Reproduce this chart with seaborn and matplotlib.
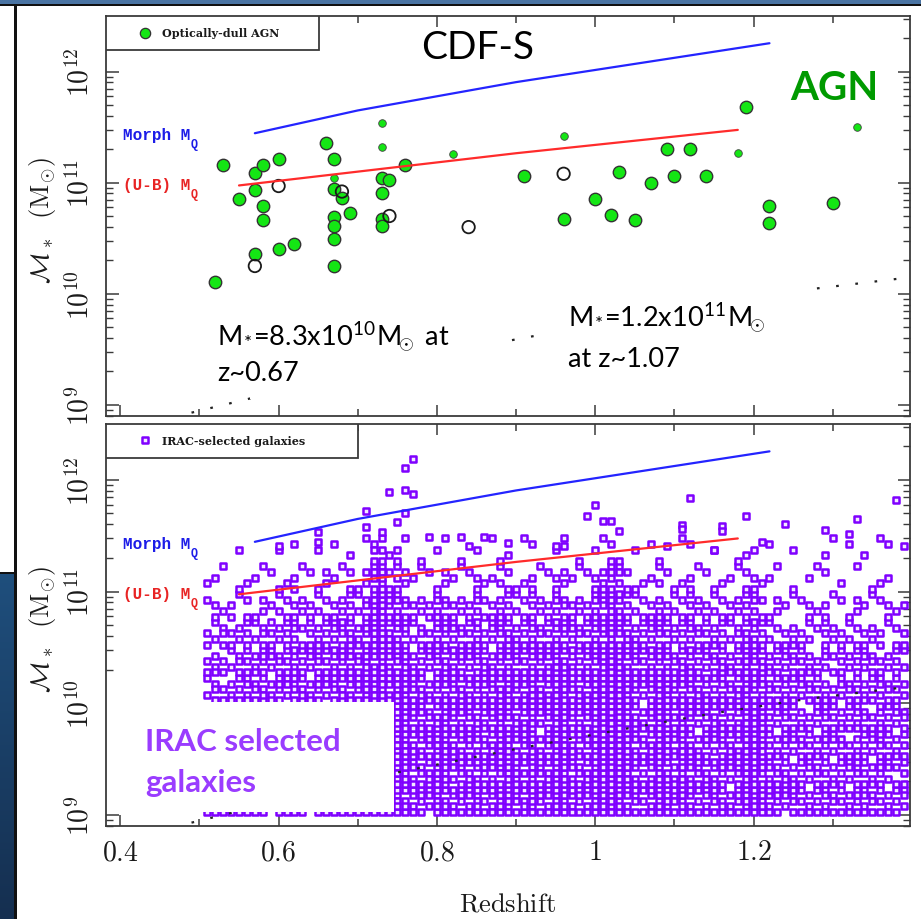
import numpy as np
import pandas as pd
import matplotlib
matplotlib.use("Agg")
import matplotlib.pyplot as plt
import seaborn as sns
from matplotlib.patches import Rectangle
from matplotlib.ticker import FixedLocator, LogLocator, MultipleLocator, NullFormatter

# ---------------------------------------------------------------- data
# Top panel: optically-dull AGN (redshift, log stellar mass)
AGN_Z = [0.53, 0.52, 0.55, 0.57, 0.58, 0.57, 0.58, 0.58, 0.60, 0.57, 0.60, 0.62,
         0.66, 0.67, 0.67, 0.67, 0.67, 0.67, 0.67, 0.68, 0.69, 0.73, 0.74, 0.73,
         0.73, 0.73, 0.76, 0.91, 0.96, 1.00, 1.02, 1.03, 1.05, 1.07, 1.09, 1.10,
         1.12, 1.14, 1.19, 1.22, 1.22, 1.30]
AGN_LOGM = [11.16, 10.11, 10.85, 11.09, 11.16, 10.93, 10.79, 10.66, 11.21, 10.36, 10.40, 10.45,
            11.36, 11.21, 10.94, 10.69, 10.61, 10.49, 10.25, 10.86, 10.73, 11.04, 11.02, 10.91,
            10.67, 10.61, 11.16, 11.06, 10.67, 10.85, 10.71, 11.10, 10.66, 11.00, 11.30, 11.06,
            11.30, 11.06, 11.68, 10.79, 10.64, 10.82]
AGN_SMALL_Z = [0.67, 0.73, 0.73, 0.82, 0.96, 1.18, 1.33]
AGN_SMALL_LOGM = [11.04, 11.32, 11.54, 11.26, 11.42, 11.27, 11.50]
AGN_OPEN_Z = [0.57, 0.60, 0.68, 0.74, 0.84, 0.96]
AGN_OPEN_LOGM = [10.25, 10.97, 10.92, 10.70, 10.60, 11.08]

# Quenching-mass lines and mass-completeness limit
MORPH_MQ_Z = [0.57, 0.70, 0.90, 1.22]
MORPH_MQ_LOGM = [11.445, 11.65, 11.905, 12.255]
UB_MQ_Z = [0.55, 0.90, 1.18]
UB_MQ_LOGM = [10.975, 11.265, 11.475]
LIMIT_Z = [0.49, 0.60, 0.75, 0.90, 1.03, 1.15, 1.27, 1.40]
LIMIT_LOGM = [8.93, 9.12, 9.38, 9.59, 9.76, 9.91, 10.04, 10.15]

# Bottom panel: IRAC-selected galaxies, read as an occupancy map.
# Columns: photometric-redshift columns; rows: 0.25 dex mass bins;
# each digit = number of galaxies (0-5) seen in that cell.
IRAC_Z_COLS = [0.51, 0.52, 0.53, 0.54, 0.55, 0.56, 0.57, 0.58, 0.59, 0.60,
               0.61, 0.62, 0.63, 0.64, 0.65, 0.66, 0.67, 0.68, 0.69, 0.70,
               0.71, 0.72, 0.73, 0.74, 0.75, 0.76, 0.77, 0.78, 0.79, 0.80,
               0.81, 0.82, 0.83, 0.84, 0.85, 0.86, 0.87, 0.88, 0.89, 0.90,
               0.91, 0.92, 0.93, 0.94, 0.95, 0.96, 0.97, 0.98, 0.99, 1.00,
               1.01, 1.02, 1.03, 1.04, 1.05, 1.06, 1.07, 1.08, 1.09, 1.10,
               1.11, 1.12, 1.13, 1.14, 1.15, 1.16, 1.17, 1.18, 1.19, 1.20,
               1.21, 1.22, 1.23, 1.24, 1.25, 1.26, 1.27, 1.28, 1.29, 1.30,
               1.31, 1.32, 1.33, 1.34, 1.35, 1.36, 1.37, 1.38, 1.39]
IRAC_BIN_LO = [9.00, 9.25, 9.50, 9.75, 10.00, 10.25, 10.50, 10.75, 11.00, 11.25]
IRAC_COUNTS = [
    "3434343434 3443434343 5554544435 4444534554 4544554445 5554434554 5434443455 5443433343 334433333",
    "3333434343 3343434443 5545554345 5344444455 3544554345 5555434543 5444443455 4434333333 334334323",
    "3343343434 3443434443 5455554445 5444434554 4534554445 5555434554 5434344455 5334333343 323334333",
    "3333343434 3443434443 5554554434 5444444544 4534554445 5555434553 5434443455 5334332343 334324333",
    "2323343434 3443434444 5554554434 4444444454 4544554445 5555434554 4444343454 4334333332 333333332",
    "2322333433 3433434443 5454453334 4443443444 3444544344 5554434443 4433343354 4333333232 323332232",
    "2232232332 3323333443 4554442324 4333423443 3433443334 4544333432 3333332344 3222322132 222222122",
    "1212121212 2222222232 3554432224 3222322332 2322332224 4543222322 2322222233 2121112121 112111211",
    "1110111111 1211121121 2452321111 2111211221 1211221112 3432111211 1211111122 1110101110 101011100",
    "0000100001 0100101010 1331210101 1010100110 1100110101 1210101100 1100100111 0100100010 010100100",
]
IRAC_SLOTS = [0.025, 0.075, 0.125, 0.175, 0.225]
IRAC_SLOT_ORDERS = ["02413", "13042", "20431", "41302", "30241"]
# isolated massive IRAC galaxies
IRAC_HI_Z = [0.77, 0.76, 0.74, 0.76, 0.77, 0.76, 0.75, 0.71, 0.71, 0.73, 0.65, 0.65,
             0.60, 0.79, 0.83, 0.86, 0.87, 0.84, 0.89, 1.12, 1.00, 0.99, 1.01, 1.02,
             1.03, 1.11, 1.11, 1.16, 1.16, 1.19, 1.21, 1.24, 1.29, 1.30, 1.32, 1.33,
             1.36, 1.38, 1.39, 0.95, 0.96, 1.09, 1.15]
IRAC_HI_LOGM = [12.19, 12.105, 11.89, 11.91, 11.875, 11.70, 11.625, 11.72, 11.575, 11.535, 11.535, 11.446,
                11.41, 11.485, 11.485, 11.485, 11.48, 11.41, 11.43, 11.84, 11.775, 11.68, 11.635, 11.63,
                11.545, 11.595, 11.56, 11.59, 11.545, 11.68, 11.446, 11.605, 11.55, 11.48, 11.515, 11.65,
                11.476, 11.815, 11.41, 11.41, 11.41, 11.41, 11.37]

X_TICKS = [0.4, 0.6, 0.8, 1.0, 1.2]
X_TICK_LABELS = [r"$0.4$", r"$0.6$", r"$0.8$", r"$1$", r"$1.2$"]
Y_TICKS = [1e9, 1e10, 1e11, 1e12]
Y_TICK_LABELS = [r"$10^{9}$", r"$10^{10}$", r"$10^{11}$", r"$10^{12}$"]

# ---------------------------------------------------------------- build tables
irac_z, irac_m = [], []
for r, (lo, row) in enumerate(zip(IRAC_BIN_LO, IRAC_COUNTS)):
    row = row.replace(" ", "")
    for i, ch in enumerate(row):
        order = IRAC_SLOT_ORDERS[(i + 2 * r) % 5]
        for k in order[:int(ch)]:
            irac_z.append(IRAC_Z_COLS[i])
            irac_m.append(lo + IRAC_SLOTS[int(k)])
irac = pd.DataFrame({"z": irac_z + IRAC_HI_Z, "logm": irac_m + IRAC_HI_LOGM})
irac["mass"] = 10 ** irac["logm"]

agn = pd.DataFrame({"z": AGN_Z, "mass": 10 ** np.array(AGN_LOGM)})
agn_small = pd.DataFrame({"z": AGN_SMALL_Z, "mass": 10 ** np.array(AGN_SMALL_LOGM)})
agn_open = pd.DataFrame({"z": AGN_OPEN_Z, "mass": 10 ** np.array(AGN_OPEN_LOGM)})
morph = pd.DataFrame({"z": MORPH_MQ_Z, "mass": 10 ** np.array(MORPH_MQ_LOGM)})
ub = pd.DataFrame({"z": UB_MQ_Z, "mass": 10 ** np.array(UB_MQ_LOGM)})
limit = pd.DataFrame({"z": LIMIT_Z, "mass": 10 ** np.array(LIMIT_LOGM)})

# ---------------------------------------------------------------- style
sns.set_style("ticks")
plt.rcParams["font.family"] = ["DejaVu Serif", "DejaVu Sans"]
plt.rcParams["mathtext.fontset"] = "cm"

W, H = 921, 920
fig = plt.figure(figsize=(W / 100, H / 100), dpi=100)
fig.patch.set_facecolor("white")

def fx(px):
    return px / W

def fy(py):
    return 1 - py / H

ax1 = fig.add_axes([fx(106), fy(417), fx(910) - fx(106), fy(17) - fy(417)])
ax2 = fig.add_axes([fx(106), fy(827), fx(910) - fx(106), fy(425) - fy(827)])

BLUE = "#2424ff"
RED = "#ff2b2b"
PURPLE = "#7f00ff"
GREEN = "#14e614"


def draw_lines(ax):
    sns.lineplot(data=morph, x="z", y="mass", ax=ax, color=BLUE, lw=1.6,
                 sort=False, estimator=None, zorder=2)
    sns.lineplot(data=ub, x="z", y="mass", ax=ax, color=RED, lw=1.6,
                 sort=False, estimator=None, zorder=2)
    sns.lineplot(data=limit, x="z", y="mass", ax=ax, color="#222222", lw=1.6,
                 linestyle=(0, (1.2, 7.5)), sort=False, estimator=None, zorder=2)
    t = ax.text(0.403, 10 ** 11.43, "Morph M", color="#1c1ce8", fontsize=11.5,
                fontfamily="Liberation Mono", fontweight="bold", va="center", ha="left", zorder=4)
    ax.annotate("Q", xy=(1, 0), xycoords=t, xytext=(0.3, 3), textcoords="offset points",
                color="#1c1ce8", fontsize=8.5, fontfamily="Liberation Mono",
                fontweight="bold", ha="left", va="top", zorder=4)
    t = ax.text(0.403, 10 ** 10.98, "(U-B) M", color="#e82424", fontsize=11.5,
                fontfamily="Liberation Mono", fontweight="bold", va="center", ha="left", zorder=4)
    ax.annotate("Q", xy=(1, 0), xycoords=t, xytext=(0.3, 3), textcoords="offset points",
                color="#e82424", fontsize=8.5, fontfamily="Liberation Mono",
                fontweight="bold", ha="left", va="top", zorder=4)


def style_axes(ax, show_x):
    ax.set_yscale("log")
    ax.set_xlim(0.382, 1.3975)
    ax.set_ylim(10 ** 8.9, 10 ** 12.5)
    ax.xaxis.set_major_locator(FixedLocator(X_TICKS))
    ax.xaxis.set_minor_locator(MultipleLocator(0.1))
    ax.yaxis.set_major_locator(FixedLocator(Y_TICKS))
    ax.yaxis.set_minor_locator(LogLocator(base=10, subs=[2, 3, 4, 5, 6, 7, 8, 9], numticks=30))
    ax.yaxis.set_minor_formatter(NullFormatter())
    ax.set_yticklabels(Y_TICK_LABELS, rotation=90, va="center", fontsize=20, color="#1a1a1a")
    if show_x:
        ax.set_xticklabels(X_TICK_LABELS, fontsize=20, color="#1a1a1a")
    ax.tick_params(which="both", direction="in", top=True, right=True,
                   color="#3a3a3a", labelbottom=show_x)
    ax.tick_params(axis="x", which="major", length=8, width=1.1, pad=9)
    ax.tick_params(axis="x", which="minor", length=5, width=1.1)
    ax.tick_params(axis="y", which="major", length=9, width=1.1, pad=8)
    ax.tick_params(axis="y", which="minor", length=5, width=1.0)
    for s in ax.spines.values():
        s.set_color("#3a3a3a")
        s.set_linewidth(1.3)
        s.set_zorder(3)
    ax.set_ylabel(r"$\mathcal{M}_*\ \ (\mathrm{M}_{\odot})$", fontsize=19, color="#1a1a1a")
    ax.yaxis.set_label_coords(-0.060, 0.49)
    ax.grid(False)


# ---------------------------------------------------------------- top panel
sns.scatterplot(data=agn, x="z", y="mass", ax=ax1, s=80, color=GREEN,
                edgecolor="#333333", linewidth=1.0, zorder=1)
sns.scatterplot(data=agn_small, x="z", y="mass", ax=ax1, s=30, color=GREEN,
                edgecolor="#444444", linewidth=0.6, zorder=1)
sns.scatterplot(data=agn_open, x="z", y="mass", ax=ax1, s=80, color="none",
                edgecolor="#1a1a1a", linewidth=1.3, zorder=1.5)
draw_lines(ax1)
style_axes(ax1, False)
ax1.set_xlabel("")

# white panels behind annotation text
for (x0, x1, y0, y1) in [(0.179, 0.496, 0.0425, 0.2475), (0.547, 0.867, 0.0925, 0.3275)]:
    ax1.add_patch(Rectangle((x0, y0), x1 - x0, y1 - y0, transform=ax1.transAxes,
                            facecolor="white", edgecolor="none", zorder=2.3))

ax1.text(0.852, 10 ** 12.22, "CDF-S", fontfamily="Lato", fontsize=28, ha="center",
         va="center", color="black", zorder=4)
ax1.text(1.302, 10 ** 11.86, "AGN", fontfamily="Lato", fontweight="bold", fontsize=29,
         ha="center", va="center", color="#009a00", zorder=4)
ax1.text(0.522, 10 ** 9.53,
         r"M$_\mathregular{*}$=8.3x10$^\mathregular{10}$M$_{\!\!\!\odot}$ at",
         fontfamily="Lato", fontsize=19.5, ha="left", va="baseline", color="black", zorder=4)
ax1.text(0.522, 10 ** 9.225, "z~0.67", fontfamily="Lato", fontsize=19.5, ha="left",
         va="baseline", color="black", zorder=4)
ax1.text(0.966, 10 ** 9.70,
         r"M$_\mathregular{*}$=1.2x10$^\mathregular{11}$M$_{\!\!\!\odot}$",
         fontfamily="Lato", fontsize=19.5, ha="left", va="baseline", color="black", zorder=4)
ax1.text(0.966, 10 ** 9.35, "at z~1.07", fontfamily="Lato", fontsize=19.5, ha="left",
         va="baseline", color="black", zorder=4)

# legend box (top)
ax1.add_patch(Rectangle((0, 0.915), 0.265, 0.085, transform=ax1.transAxes, facecolor="white",
                        edgecolor="#3a3a3a", linewidth=1.3, zorder=3.5))
ax1.scatter([0.0485], [0.958], transform=ax1.transAxes, s=55, color=GREEN,
            edgecolor="#333333", linewidth=0.9, zorder=4, clip_on=False)
ax1.text(0.0697, 0.958, "Optically-dull AGN", transform=ax1.transAxes, fontsize=8,
         fontfamily="DejaVu Serif", fontweight="bold", va="center", ha="left",
         color="#1a1a1a", zorder=4)

# ---------------------------------------------------------------- bottom panel
sns.scatterplot(data=irac, x="z", y="mass", ax=ax2, s=13, marker="s", color="#f4eaff",
                edgecolor=PURPLE, linewidth=1.8, zorder=1)
draw_lines(ax2)
style_axes(ax2, True)
ax2.set_xlabel(r"$\mathrm{Redshift}$", fontsize=19, color="#1a1a1a")
ax2.xaxis.set_label_coords(0.5, -0.16)

ax2.add_patch(Rectangle((0, 0.0348), 0.358, 0.2737, transform=ax2.transAxes,
                        facecolor="white", edgecolor="none", zorder=2.3))
ax2.text(0.431, 10 ** 9.585, "IRAC selected", fontfamily="Lato", fontweight="bold",
         fontsize=22.5, color="#9a3cff", ha="left", va="baseline", zorder=4)
ax2.text(0.431, 10 ** 9.21, "galaxies", fontfamily="Lato", fontweight="bold",
         fontsize=22.5, color="#9a3cff", ha="left", va="baseline", zorder=4)

ax2.add_patch(Rectangle((0, 0.9154), 0.313, 0.0846, transform=ax2.transAxes, facecolor="white",
                        edgecolor="#3a3a3a", linewidth=1.3, zorder=3.5))
ax2.scatter([0.0485], [0.96], transform=ax2.transAxes, s=13, marker="s", color="#f4eaff",
            edgecolor=PURPLE, linewidth=1.8, zorder=4, clip_on=False)
ax2.text(0.0697, 0.96, "IRAC-selected galaxies", transform=ax2.transAxes, fontsize=8,
         fontfamily="DejaVu Serif", fontweight="bold", va="center", ha="left",
         color="#1a1a1a", zorder=4)

# ---------------------------------------------------------------- slide frame
fig.add_artist(Rectangle((0, fy(4.5)), 1, 4.5 / H, transform=fig.transFigure,
                         facecolor="#4a74a3", edgecolor="none"))
fig.add_artist(Rectangle((0, fy(7)), 1, 2.5 / H, transform=fig.transFigure,
                         facecolor="#111111", edgecolor="none"))
nav = fig.add_axes([0, 0, fx(14), fy(573)])
grad = np.linspace(0, 1, 256)[:, None]
nav.imshow(grad, aspect="auto", cmap=matplotlib.colors.LinearSegmentedColormap.from_list(
    "nav", ["#1f4f7d", "#152f50"]), extent=[0, 1, 0, 1], origin="upper")
nav.set_axis_off()
fig.add_artist(Rectangle((0, fy(574.5)), fx(16), 2 / H, transform=fig.transFigure,
                         facecolor="#111111", edgecolor="none"))
fig.add_artist(Rectangle((fx(14), 0), fx(3), fy(6), transform=fig.transFigure,
                         facecolor="#111111", edgecolor="none"))

fig.savefig("out.png", dpi=100)
